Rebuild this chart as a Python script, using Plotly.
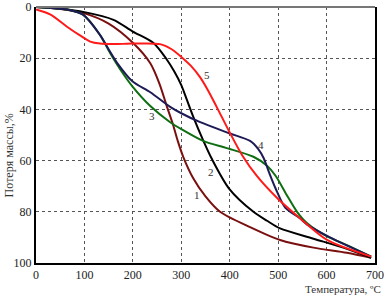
import plotly.graph_objects as go

# Curve 1 (maroon)
T1 = [0, 50, 100, 150, 200, 236, 255, 270, 283, 293, 304, 325, 350, 380, 442, 504, 573, 642, 692]
L1 = [0, 0.8, 2.5, 6.5, 14, 22, 30, 38.7, 46, 52.5, 58.5, 67, 74, 80, 86, 91, 94, 96, 98]
# Curve 2 (black)
T2 = [0, 50, 100, 160, 200, 242, 270, 285, 300, 312, 325, 345, 363, 399, 449, 477, 504, 573, 642, 692]
L2 = [0, 0.7, 2, 5, 9.6, 14, 20.5, 25, 30.5, 36.5, 43, 52, 59.3, 71, 80, 83.5, 86.5, 90.5, 94.5, 98]
# Curve 3 (green)
T3 = [0, 64, 97, 132, 153, 174, 199, 236, 277, 300, 345, 386, 399, 449, 477, 495, 518, 539, 560, 600, 642, 692]
L3 = [0, 1, 3, 10.9, 18, 24.4, 31, 38.7, 45, 47.7, 52.3, 54.7, 55.4, 58.5, 62, 66, 73.5, 80, 84.5, 89.5, 93, 97.5]
# Curve 4 (navy)
T4 = [0, 64, 97, 132, 153, 167, 199, 236, 277, 300, 339, 399, 442, 459, 470, 480, 495, 515, 545, 560, 607, 692]
L4 = [0, 1, 3, 10.9, 17.5, 21.7, 29, 33.3, 39, 41.5, 45, 49.3, 52.3, 55.5, 59, 64, 71, 78.5, 82.5, 85, 90, 97.5]
# Curve 5 (red)
T5 = [0, 30, 64, 90, 112, 132, 160, 200, 256, 280, 300, 320, 339, 355, 373, 400, 426, 456, 500, 545, 601, 692]
L5 = [1, 3, 7.7, 11, 13.5, 14.3, 14.5, 14.3, 14.5, 16.5, 19.5, 23, 27.5, 32.5, 39, 49, 58, 66, 75, 82.5, 91, 97.5]

labels = ["1", "2", "3", "4", "5"]
label_T = [333, 362, 240, 465, 353]
label_L = [73.6, 64.3, 42.6, 54, 26.7]

x_ticks = [0, 100, 200, 300, 400, 500, 600, 700]
y_ticks = [0, 20, 40, 60, 80, 100]

FONT = "Liberation Serif"

series = [
    (T1, L1, "#7a0f0f"),
    (T2, L2, "#000000"),
    (T3, L3, "#0f6e12"),
    (T4, L4, "#1d1a55"),
    (T5, L5, "#ff1a1a"),
]

fig = go.Figure()
for T, L, c in series:
    fig.add_trace(go.Scatter(x=T, y=L, mode="lines",
                             line=dict(color=c, width=2, shape="spline", smoothing=0.8),
                             showlegend=False, hoverinfo="skip"))

for lab, tx, ly in zip(labels, label_T, label_L):
    fig.add_annotation(x=tx, y=ly, text=lab, showarrow=False,
                       font=dict(family=FONT, size=11, color="#333333"))

fig.add_annotation(xref="paper", yref="paper", x=1.024, y=-0.07, xanchor="right", yanchor="top",
                   text="Температура, ºС", showarrow=False,
                   font=dict(family=FONT, size=11, color="#333333"))
fig.add_annotation(xref="paper", yref="paper", x=-0.077, y=0.42, xanchor="center", yanchor="middle",
                   text="Потеря массы,%", textangle=-90, showarrow=False,
                   font=dict(family=FONT, size=12, color="#333333"))

fig.add_shape(type="line", xref="paper", yref="paper", x0=0, x1=1, y0=1, y1=1,
              line=dict(color="#777777", width=2))

fig.update_layout(
    width=385, height=296,
    margin=dict(l=36, r=10, t=7, b=33, autoexpand=False),
    paper_bgcolor="white", plot_bgcolor="white",
    font=dict(family=FONT, size=12, color="#222222"),
)
fig.update_xaxes(range=[0, 700], tickvals=x_ticks, ticktext=[str(v) for v in x_ticks],
                 showgrid=True, gridcolor="#555555", griddash="dot", gridwidth=1,
                 showline=True, linecolor="black", linewidth=2, mirror=False,
                 ticks="", ticklabelstandoff=0, zeroline=False, automargin=False,
                 tickfont=dict(family=FONT, size=12))
fig.update_yaxes(range=[100, 0], tickvals=y_ticks, ticktext=[str(v) for v in y_ticks],
                 showgrid=True, gridcolor="#555555", griddash="dot", gridwidth=1,
                 showline=True, linecolor="black", linewidth=2, mirror=True,
                 ticks="", zeroline=False, automargin=False, tickfont=dict(family=FONT, size=12))

fig.write_html("out.html", config={"displayModeBar": False},
               post_script="document.body.style.margin='0';document.body.style.overflow='hidden';")
